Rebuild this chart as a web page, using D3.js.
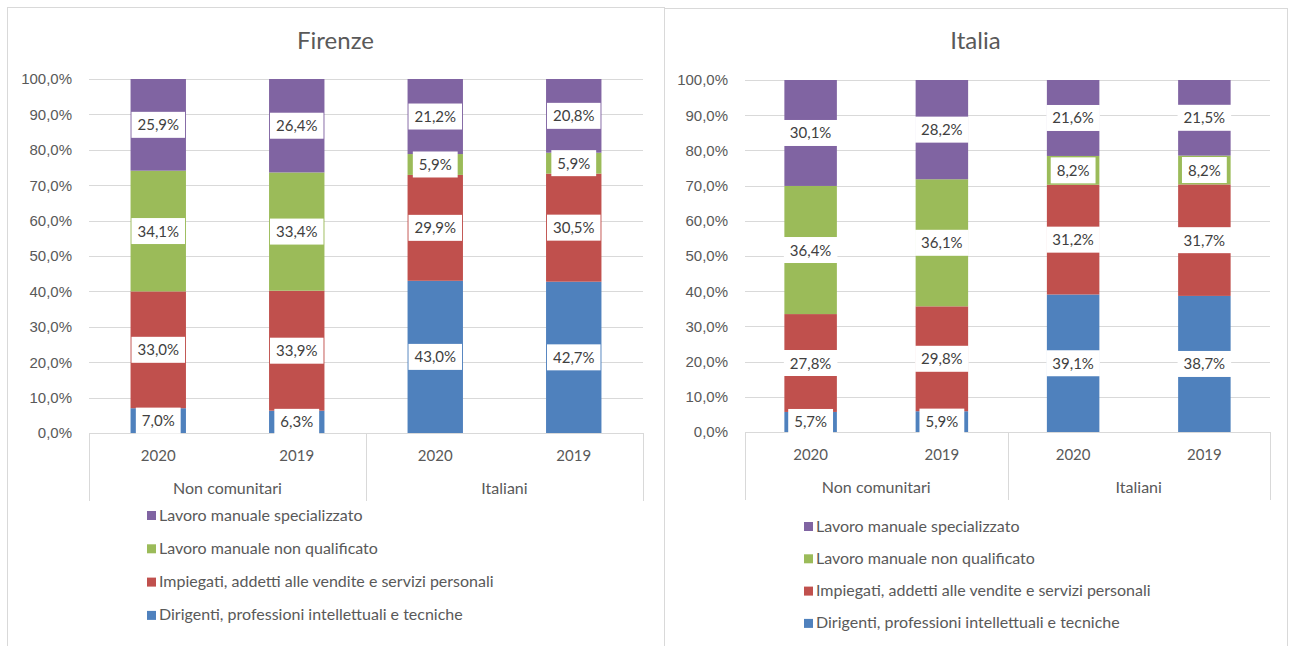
<!DOCTYPE html>
<html>
<head>
<meta charset="utf-8">
<script src="https://cdn.jsdelivr.net/npm/d3@7"></script>
<style>
  body { margin: 0; background: #fff; }
  svg { font-family: Lato, "Open Sans", sans-serif; }
</style>
</head>
<body>
<script>
// categories and series
var years = ["2020", "2019", "2020", "2019"];
var groups = ["Non comunitari", "Italiani"];
var seriesNames = ["Dirigenti, professioni intellettuali e tecniche",
                   "Impiegati, addetti alle vendite e servizi personali",
                   "Lavoro manuale non qualificato",
                   "Lavoro manuale specializzato"];
var seriesColors = ["#4F81BD", "#C0504D", "#9BBB59", "#8064A2"];
var yTicks = [0, 0.1, 0.2, 0.3, 0.4, 0.5, 0.6, 0.7, 0.8, 0.9, 1];

// Firenze values (%)
var firenzeDirigenti = [7.0, 6.3, 43.0, 42.7];
var firenzeImpiegati = [33.0, 33.9, 29.9, 30.5];
var firenzeNonQualificato = [34.1, 33.4, 5.9, 5.9];
var firenzeSpecializzato = [25.9, 26.4, 21.2, 20.8];

// Italia values (%)
var italiaDirigenti = [5.7, 5.9, 39.1, 38.7];
var italiaImpiegati = [27.8, 29.8, 31.2, 31.7];
var italiaNonQualificato = [36.4, 36.1, 8.2, 8.2];
var italiaSpecializzato = [30.1, 28.2, 21.6, 21.5];

var locale = d3.formatLocale({decimal: ",", thousands: ".", grouping: [3], currency: ["", "€"]});
var fmtAxis = locale.format(".1%");
var fmtVal = function(v) { return locale.format(".1f")(v) + "%"; };

var svg = d3.select("body").append("svg").attr("width", 1291).attr("height", 646);

function buildRows(series) {
    return years.map(function(y, i) {
        var r = {idx: i};
        series.forEach(function(s, k) { r["s" + k] = s[i]; });
        return r;
    });
}

function drawChart(cfg) {
    var g = svg.append("g");

    // panel border
    g.append("rect")
        .attr("x", cfg.panel[0] + 0.5).attr("y", cfg.panel[1] + 0.5)
        .attr("width", cfg.panel[2]).attr("height", cfg.panel[3])
        .attr("fill", "none").attr("stroke", "#d9d9d9");

    g.append("text")
        .attr("x", cfg.panel[0] + cfg.panel[2] / 2).attr("y", 49)
        .attr("text-anchor", "middle")
        .style("font-size", "24px").style("fill", "#595959")
        .text(cfg.title);

    var x = d3.scaleBand().domain(d3.range(years.length))
        .range([cfg.left, cfg.right]).paddingInner(0.6).paddingOuter(0.3);
    var y = d3.scaleLinear().domain([0, 1]).range([cfg.bottom, cfg.top]);

    // gridlines
    g.append("g").selectAll("line").data(yTicks.slice(1)).enter().append("line")
        .attr("x1", cfg.left).attr("x2", cfg.right)
        .attr("y1", function(d) { return Math.round(y(d)) + 0.5; })
        .attr("y2", function(d) { return Math.round(y(d)) + 0.5; })
        .attr("stroke", "#d9d9d9");

    // y axis labels
    var yAxis = d3.axisLeft(y).tickValues(yTicks).tickFormat(fmtAxis).tickSize(0).tickPadding(17);
    var ya = g.append("g").attr("transform", "translate(" + cfg.left + ",0)").call(yAxis);
    ya.select(".domain").remove();
    ya.selectAll("text").style("font-size", "15px").style("fill", "#595959").attr("font-family", null);

    var rows = buildRows(cfg.series);
    var keys = cfg.series.map(function(s, k) { return "s" + k; });
    var stacked = d3.stack().keys(keys).offset(d3.stackOffsetExpand)(rows);

    var layers = g.append("g").selectAll("g").data(stacked).enter().append("g")
        .attr("fill", function(d, k) { return seriesColors[k]; });
    layers.selectAll("rect").data(function(d) { return d; }).enter().append("rect")
        .attr("x", function(d) { return x(d.data.idx); })
        .attr("width", x.bandwidth())
        .attr("y", function(d) { return y(d[1]); })
        .attr("height", function(d) { return y(d[0]) - y(d[1]); });

    // category axis
    var ax = g.append("g").attr("stroke", "#d9d9d9");
    ax.append("line").attr("x1", cfg.left).attr("x2", cfg.right)
        .attr("y1", cfg.bottom + 0.5).attr("y2", cfg.bottom + 0.5);
    [cfg.left, (cfg.left + cfg.right) / 2, cfg.right].forEach(function(px) {
        ax.append("line").attr("x1", Math.round(px) + 0.5).attr("x2", Math.round(px) + 0.5)
            .attr("y1", cfg.bottom).attr("y2", cfg.bottom + 68);
    });
    g.append("g").selectAll("text").data(years).enter().append("text")
        .attr("x", function(d, i) { return x(i) + x.bandwidth() / 2; })
        .attr("y", cfg.bottom + 28)
        .attr("text-anchor", "middle")
        .style("font-size", "15px").style("fill", "#595959")
        .text(function(d) { return d; });
    var half = (cfg.right - cfg.left) / 2;
    g.append("g").selectAll("text").data(groups).enter().append("text")
        .attr("x", function(d, i) { return cfg.left + half * i + half / 2; })
        .attr("y", cfg.bottom + 61)
        .attr("text-anchor", "middle")
        .style("font-size", "16px").style("fill", "#595959")
        .text(function(d) { return d; });

    // data labels with white boxes
    var lab = g.append("g");
    stacked.forEach(function(layer, k) {
        layer.forEach(function(d, i) {
            var cx = x(d.data.idx) + x.bandwidth() / 2;
            var cy = (y(d[0]) + y(d[1])) / 2;
            var lg = lab.append("g");
            var box = lg.append("rect").attr("fill", "#fff");
            var t = lg.append("text")
                .attr("x", cx).attr("y", cy + 5.5)
                .attr("text-anchor", "middle")
                .style("font-size", "15px").style("fill", "#404040")
                .text(fmtVal(cfg.series[k][i]));
            var w = t.node().getComputedTextLength() + 12;
            box.attr("x", cx - w / 2).attr("y", cy - 13).attr("width", w).attr("height", 26);
        });
    });

    // legend (top series first)
    var leg = g.append("g").selectAll("g").data(d3.range(seriesNames.length).reverse()).enter().append("g")
        .attr("transform", function(k, j) { return "translate(" + cfg.legend[0] + "," + (cfg.legend[1] + j * cfg.legend[2]) + ")"; });
    leg.append("rect").attr("x", 0).attr("y", -4).attr("width", 9).attr("height", 9)
        .attr("fill", function(k) { return seriesColors[k]; });
    leg.append("text").attr("x", 12).attr("y", 5.5)
        .style("font-size", "16px").style("fill", "#595959")
        .text(function(k) { return seriesNames[k]; });
}

drawChart({
    title: "Firenze",
    panel: [7, 7, 657, 660],
    left: 89, right: 643, top: 79, bottom: 433,
    series: [firenzeDirigenti, firenzeImpiegati, firenzeNonQualificato, firenzeSpecializzato],
    legend: [147, 515, 33.3]
});

drawChart({
    title: "Italia",
    panel: [664, 8, 623, 660],
    left: 745, right: 1270, top: 80, bottom: 432,
    series: [italiaDirigenti, italiaImpiegati, italiaNonQualificato, italiaSpecializzato],
    legend: [804, 526, 32.3]
});
</script>
</body>
</html>
